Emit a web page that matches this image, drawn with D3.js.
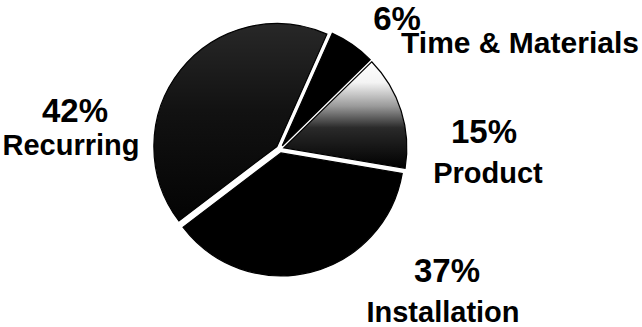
<!DOCTYPE html>
<html>
<head>
<meta charset="utf-8">
<script src="https://cdn.jsdelivr.net/npm/d3@7"></script>
<style>
  body { margin: 0; background: #fff; }
  text { font-family: "Liberation Sans", Arial, sans-serif; font-weight: bold; fill: #000; }
</style>
</head>
<body>
<div id="chart"></div>
<script>
var categories = ["Time & Materials", "Product", "Installation", "Recurring"]
var shares = [6, 15, 37, 42]
var pctLabels = ["6%", "15%", "37%", "42%"]

var width = 642
var height = 327
var cx = 280, cy = 149, r = 123
var explode = 4

var svg = d3.select("#chart").append("svg")
  .attr("width", width)
  .attr("height", height)

var defs = svg.append("defs")

// gradients are in the pie group's space (origin at pie centre)
// product slice fades from white at the top to black at the bottom
var g1 = defs.append("linearGradient")
  .attr("id", "prodFill")
  .attr("gradientUnits", "userSpaceOnUse")
  .attr("x1", 0).attr("y1", 62 - cy).attr("x2", 0).attr("y2", 170 - cy)
g1.append("stop").attr("offset", "0%").attr("stop-color", "#fff")
g1.append("stop").attr("offset", "20%").attr("stop-color", "#f4f4f4")
g1.append("stop").attr("offset", "42%").attr("stop-color", "#9a9a9a")
g1.append("stop").attr("offset", "62%").attr("stop-color", "#2a2a2a")
g1.append("stop").attr("offset", "100%").attr("stop-color", "#000")

// recurring slice is a dark stipple, a bit lighter near the top
var g2 = defs.append("linearGradient")
  .attr("id", "recFill")
  .attr("gradientUnits", "userSpaceOnUse")
  .attr("x1", 0).attr("y1", 25 - cy).attr("x2", 0).attr("y2", 220 - cy)
g2.append("stop").attr("offset", "0%").attr("stop-color", "#282828")
g2.append("stop").attr("offset", "45%").attr("stop-color", "#121212")
g2.append("stop").attr("offset", "100%").attr("stop-color", "#040404")

var fills = d3.scaleOrdinal()
  .domain(categories)
  .range(["#000", "url(#prodFill)", "#000", "url(#recFill)"])

var pie = d3.pie()
  .sort(null)
  .startAngle(24 * Math.PI / 180)
  .endAngle(24 * Math.PI / 180 + 2 * Math.PI)

var arc = d3.arc().innerRadius(0).outerRadius(r)

var arcs = pie(shares)

svg.append("g")
  .attr("transform", "translate(" + cx + "," + cy + ")")
  .selectAll("path")
  .data(arcs).enter()
  .append("path")
    .attr("d", arc)
    .attr("transform", function(d){
      var a = (d.startAngle + d.endAngle) / 2
      return "translate(" + (explode * Math.sin(a)) + "," + (-explode * Math.cos(a)) + ")"
    })
    .attr("fill", function(d, i){ return fills(categories[i]) })
    .attr("stroke", "#000")
    .attr("stroke-width", 1.2)

// label positions
var labelPos = [
  {px: 397, py: 30, nx: 520, ny: 53},
  {px: 484, py: 143, nx: 488, ny: 183},
  {px: 447, py: 282, nx: 443, ny: 322},
  {px: 75, py: 122, nx: 71, ny: 155}
]

svg.selectAll("text.pct")
  .data(pctLabels).enter()
  .append("text")
    .classed("pct", true)
    .attr("x", function(d, i){ return labelPos[i].px })
    .attr("y", function(d, i){ return labelPos[i].py })
    .attr("text-anchor", "middle")
    .attr("font-size", 33)
    .text(function(d){ return d })

svg.selectAll("text.name")
  .data(categories).enter()
  .append("text")
    .classed("name", true)
    .attr("x", function(d, i){ return labelPos[i].nx })
    .attr("y", function(d, i){ return labelPos[i].ny })
    .attr("text-anchor", "middle")
    .attr("font-size", function(d, i){ return i === 0 ? 30 : 29 })
    .text(function(d){ return d })
</script>
</body>
</html>
